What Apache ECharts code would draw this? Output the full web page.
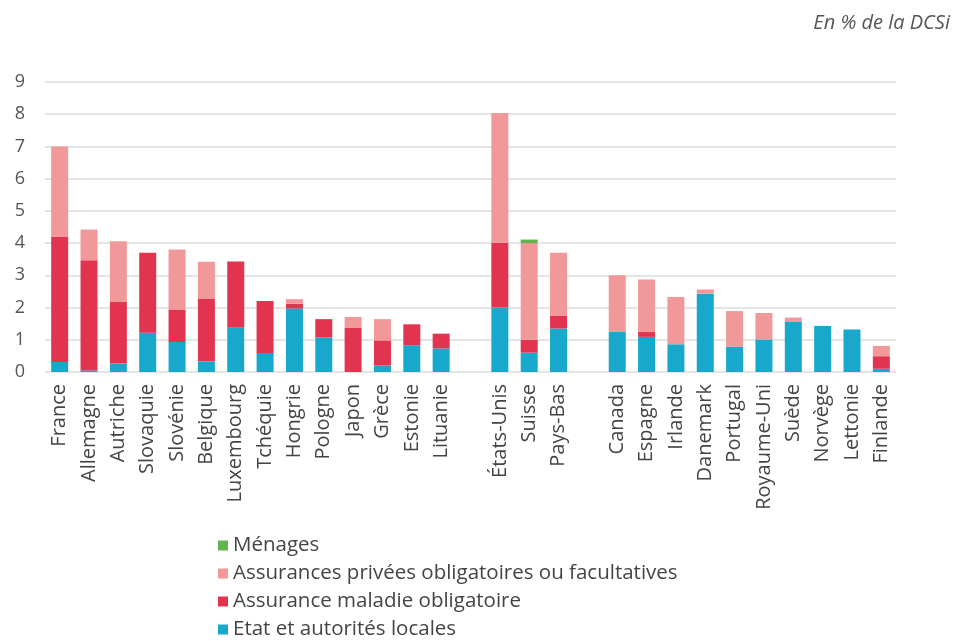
<!DOCTYPE html>
<html><head><meta charset="utf-8">
<script src="https://cdn.jsdelivr.net/npm/echarts@6/dist/echarts.min.js"></script>
<style>html,body{margin:0;padding:0;background:#fff}#c{width:959px;height:641px}</style>
</head><body><div id="c"></div>
<script>
const categories = ['France','Allemagne','Autriche','Slovaquie','Slovénie','Belgique','Luxembourg','Tchéquie','Hongrie','Pologne','Japon','Grèce','Estonie','Lituanie','',
  'États-Unis','Suisse','Pays-Bas','',
  'Canada','Espagne','Irlande','Danemark','Portugal','Royaume-Uni','Suède','Norvège','Lettonie','Finlande'];
const etat =      [0.31,0.05,0.26,1.22,0.93,0.33,1.37,0.59,1.97,1.07,0,   0.20,0.83,0.73,'-', 2.00,0.60,1.35,'-', 1.24,1.09,0.86,2.43,0.78,1.01,1.57,1.43,1.32,0.10];
const amo =       [3.88,3.42,1.91,2.48,1.01,1.95,2.06,1.61,0.15,0.57,1.38,0.78,0.65,0.46,'-', 2.01,0.40,0.39,'-', 0,   0.15,0,   0,   0,   0,   0,   0,   0,   0.39];
const privees =   [2.81,0.95,1.89,0,   1.86,1.14,0,   0,   0.14,0,   0.33,0.66,0,   0,   '-', 4.03,3.00,1.96,'-', 1.76,1.63,1.47,0.13,1.11,0.82,0.12,0,   0,   0.32];
const menages =   [0,   0,   0,   0,   0,   0,   0,   0,   0,   0,   0,   0,   0,   0,   '-', 0,   0.11,0,   '-', 0,   0,   0,   0,   0,   0,   0,   0,   0,   0];
const seriesNames = ['Etat et autorités locales','Assurance maladie obligatoire','Assurances privées obligatoires ou facultatives','Ménages'];
const colors = ['#17a8cb','#e3344f','#f0989a','#62b44e'];
const yTicks = [0,1,2,3,4,5,6,7,8,9];

const chart = echarts.init(document.getElementById('c'));
const font = '"Open Sans", "Noto Sans", sans-serif';
const mk = (name, data, color) => ({name, type:'bar', stack:'t', data, barWidth:17, itemStyle:{color}, emphasis:{disabled:true}});
chart.setOption({
  animation:false,
  textStyle:{fontFamily:font},
  graphic:[{type:'text', right:9, top:13, style:{text:'En % de la DCSi', font:'italic 20px '+font, fill:'#555'}}],
  grid:{left:45, right:63, top:82, bottom:269, containLabel:false},
  legend:{
    orient:'vertical', left:218, top:535, height:140, itemGap:7, itemWidth:10, itemHeight:10,
    padding:0,
    icon:'rect',
    data:[seriesNames[3],seriesNames[2],seriesNames[1],seriesNames[0]],
    textStyle:{fontSize:20.5, lineHeight:20, color:'#444', fontFamily:font},
    selectedMode:false
  },
  xAxis:{type:'category', data:categories,
    axisLine:{show:false}, axisTick:{show:false},
    axisLabel:{rotate:90, fontSize:20, color:'#444', interval:0, margin:12, fontFamily:font}},
  yAxis:{type:'value', min:yTicks[0], max:yTicks[yTicks.length-1], interval:1,
    axisLabel:{fontSize:18, color:'#555', margin:20, fontFamily:font},
    splitLine:{lineStyle:{color:'#dcdcdc', width:1.5}}},
  series:[mk(seriesNames[0],etat,colors[0]),mk(seriesNames[1],amo,colors[1]),mk(seriesNames[2],privees,colors[2]),mk(seriesNames[3],menages,colors[3])]
});
</script></body></html>
